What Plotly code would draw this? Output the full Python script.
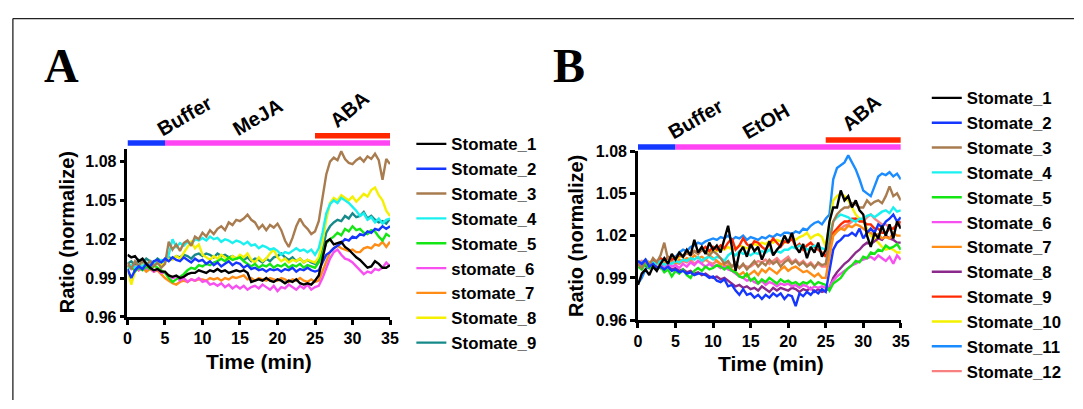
import plotly.graph_objects as go

TIME = [0, 0.5, 1, 1.5, 2, 2.5, 3, 3.5, 4, 4.5,
        5, 5.5, 6, 6.5, 7, 7.5, 8, 8.5, 9, 9.5,
        10, 10.5, 11, 11.5, 12, 12.5, 13, 13.5, 14, 14.5,
        15, 15.5, 16, 16.5, 17, 17.5, 18, 18.5, 19, 19.5,
        20, 20.5, 21, 21.5, 22, 22.5, 23, 23.5, 24, 24.5,
        25, 25.5, 26, 26.5, 27, 27.5, 28, 28.5, 29, 29.5,
        30, 30.5, 31, 31.5, 32, 32.5, 33, 33.5, 34, 34.5,
        35]

# ---------------- Panel A ----------------
A_NAMES = ["Stomate_1", "Stomate_2", "Stomate_3", "Stomate_4", "Stomate_5",
           "stomate_6", "stomate_7", "Stomate_8", "Stomate_9"]
A_COLORS = ["#000000", "#1436ff", "#a97c50", "#19f0f0", "#14e614",
            "#f84ff0", "#ff8c14", "#f5f000", "#168a8a"]

A_S1 = [1.008, 1.006, 1.007, 1.003, 1.005, 1.001, 0.998, 0.996, 0.997, 0.995,
        0.995, 0.992, 0.991, 0.992, 0.990, 0.991, 0.993, 0.994, 0.994, 0.996,
        0.995, 0.994, 0.996, 0.995, 0.997, 0.995, 0.996, 0.994, 0.995, 0.996,
        0.995, 0.996, 0.994, 0.987, 0.988, 0.989, 0.988, 0.990, 0.988, 0.987,
        0.989, 0.988, 0.986, 0.988, 0.987, 0.989, 0.986, 0.985, 0.986, 0.985,
        0.988, 0.992, 1.005, 1.018, 1.020, 1.016, 1.017, 1.018, 1.014, 1.012,
        1.009, 1.006, 1.004, 1.001, 0.998, 0.999, 1.003, 1.001, 0.998, 0.998,
        1.000]
A_S2 = [0.997, 0.990, 0.996, 0.999, 0.997, 1.001, 0.999, 1.003, 1.004, 1.002,
        1.005, 1.003, 1.006, 1.004, 1.003, 1.006, 1.004, 1.002, 1.005, 1.003,
        1.004, 1.001, 1.003, 1.000, 1.002, 0.999, 1.001, 1.003, 1.000, 1.002,
        1.001, 0.998, 1.000, 0.997, 0.998, 0.996, 0.997, 0.995, 0.997, 0.996,
        0.997, 0.995, 0.997, 0.996, 0.998, 0.995, 0.997, 0.996, 0.998, 0.996,
        0.995, 0.996, 1.002, 1.008, 1.010, 1.013, 1.015, 1.017, 1.020, 1.019,
        1.022, 1.021, 1.024, 1.023, 1.026, 1.025, 1.028, 1.027, 1.030, 1.028,
        1.030]
A_S3 = [1.002, 0.997, 1.003, 0.999, 1.004, 1.000, 1.003, 0.999, 1.002, 0.998,
        1.001, 1.018, 1.012, 1.016, 1.011, 1.017, 1.019, 1.015, 1.022, 1.020,
        1.025, 1.022, 1.027, 1.024, 1.028, 1.030, 1.027, 1.033, 1.031, 1.035,
        1.034, 1.036, 1.039, 1.035, 1.033, 1.028, 1.031, 1.027, 1.031, 1.029,
        1.032, 1.027, 1.019, 1.014, 1.021, 1.030, 1.036, 1.031, 1.028, 1.024,
        1.026, 1.034, 1.052, 1.070, 1.080, 1.083, 1.081, 1.088, 1.082, 1.079,
        1.078, 1.081, 1.083, 1.080, 1.084, 1.082, 1.086, 1.081, 1.066, 1.082,
        1.078]
A_S4 = [0.996, 1.000, 0.998, 1.001, 0.999, 1.002, 1.000, 1.003, 1.001, 1.004,
        1.002, 1.008, 1.020, 1.014, 1.017, 1.015, 1.018, 1.016, 1.020, 1.019,
        1.021, 1.019, 1.022, 1.020, 1.021, 1.018, 1.020, 1.019, 1.017, 1.019,
        1.018, 1.016, 1.018, 1.015, 1.016, 1.013, 1.015, 1.014, 1.012, 1.013,
        1.011, 1.008, 1.010, 1.009, 1.011, 1.013, 1.011, 1.012, 1.010, 1.012,
        1.008, 1.013, 1.025, 1.040, 1.047, 1.050, 1.048, 1.052, 1.050, 1.048,
        1.045, 1.042, 1.038, 1.040, 1.035, 1.037, 1.033, 1.036, 1.032, 1.035,
        1.036]
A_S5 = [0.998, 1.000, 0.995, 0.998, 0.996, 0.999, 0.997, 1.000, 0.998, 0.996,
        0.994, 0.990, 0.987, 0.989, 0.991, 0.993, 0.996, 0.998, 0.997, 1.000,
        0.999, 1.001, 1.000, 1.002, 1.003, 1.005, 1.003, 1.006, 1.004, 1.005,
        1.006, 1.003, 1.001, 0.999, 1.001, 0.998, 1.000, 0.999, 1.001, 0.998,
        1.000, 0.999, 1.001, 0.998, 1.000, 0.999, 1.001, 0.998, 1.000, 0.999,
        0.998, 1.002, 1.010, 1.017, 1.020, 1.022, 1.025, 1.023, 1.028, 1.026,
        1.030, 1.027, 1.028, 1.025, 1.024, 1.027, 1.026, 1.022, 1.019, 1.024,
        1.022]
A_S6 = [1.000, 0.997, 0.999, 0.996, 0.999, 0.997, 0.998, 0.995, 0.997, 0.994,
        0.994, 0.992, 0.990, 0.991, 0.988, 0.990, 0.987, 0.989, 0.988, 0.990,
        0.987, 0.988, 0.985, 0.986, 0.984, 0.986, 0.983, 0.985, 0.982, 0.984,
        0.982, 0.984, 0.981, 0.983, 0.984, 0.982, 0.985, 0.983, 0.981, 0.984,
        0.980, 0.983, 0.982, 0.985, 0.983, 0.981, 0.984, 0.982, 0.985, 0.981,
        0.983, 0.984, 0.990, 0.998, 1.005, 1.010, 1.012, 1.008, 1.005, 1.004,
        1.002, 0.999, 0.996, 0.993, 0.995, 0.994, 0.997, 0.996, 0.998, 1.002,
        0.999]
A_S7 = [1.000, 0.997, 0.999, 0.996, 0.998, 0.995, 0.997, 0.995, 0.996, 0.993,
        0.990, 0.988, 0.986, 0.985, 0.987, 0.988, 0.987, 0.989, 0.988, 0.989,
        0.989, 0.988, 0.990, 0.989, 0.990, 0.988, 0.990, 0.989, 0.991, 0.990,
        0.991, 0.992, 0.989, 0.990, 0.988, 0.990, 0.989, 0.988, 0.990, 0.989,
        0.988, 0.990, 0.989, 0.987, 0.989, 0.988, 0.990, 0.988, 0.987, 0.989,
        0.987, 0.988, 0.995, 1.003, 1.010, 1.013, 1.015, 1.013, 1.012, 1.011,
        1.012, 1.010, 1.010, 1.013, 1.014, 1.013, 1.016, 1.015, 1.018, 1.014,
        1.018]
A_S8 = [0.997, 0.985, 0.995, 0.998, 1.000, 0.997, 1.001, 0.999, 1.002, 1.000,
        1.003, 1.005, 1.004, 1.007, 1.005, 1.010, 1.014, 1.018, 1.013, 1.016,
        1.008, 1.006, 1.004, 1.007, 1.005, 1.008, 1.006, 1.004, 1.007, 1.005,
        1.008, 1.006, 1.009, 1.004, 1.002, 1.006, 1.003, 1.005, 1.009, 1.012,
        1.006, 1.003, 1.005, 1.002, 1.004, 1.003, 1.005, 1.002, 1.004, 1.003,
        1.002, 1.006, 1.018, 1.035, 1.048, 1.052, 1.050, 1.054, 1.052, 1.050,
        1.053, 1.049, 1.052, 1.055, 1.053, 1.058, 1.060, 1.054, 1.050, 1.042,
        1.038]
A_S9 = [1.001, 1.003, 1.000, 1.004, 1.002, 1.005, 1.003, 1.002, 1.005, 1.003,
        1.004, 1.006, 1.005, 1.007, 1.006, 1.008, 1.007, 1.005, 1.008, 1.009,
        1.007, 1.009, 1.008, 1.006, 1.009, 1.007, 1.008, 1.006, 1.007, 1.005,
        1.006, 1.004, 1.006, 1.003, 1.005, 1.004, 1.002, 1.005, 1.003, 1.006,
        1.007, 1.009, 1.006, 1.004, 1.006, 1.003, 1.005, 1.002, 1.004, 1.002,
        1.001, 1.004, 1.012, 1.025, 1.030, 1.033, 1.035, 1.034, 1.038, 1.036,
        1.040, 1.037, 1.038, 1.041, 1.036, 1.038, 1.035, 1.033, 1.034, 1.032,
        1.036]
A_SERIES = [A_S1, A_S2, A_S3, A_S4, A_S5, A_S6, A_S7, A_S8, A_S9]

# ---------------- Panel B ----------------
B_NAMES = ["Stomate_1", "Stomate_2", "Stomate_3", "Stomate_4", "Stomate_5",
           "Stomate_6", "Stomate_7", "Stomate_8", "Stomate_9", "Stomate_10",
           "Stomate_11", "Stomate_12"]
B_COLORS = ["#000000", "#1436ff", "#a97c50", "#19f0f0", "#14e614",
            "#f84ff0", "#ff8c14", "#8c2a8c", "#ff2a00", "#f5f000",
            "#1a8cff", "#f88080"]

B_S1 = [0.985, 0.993, 0.996, 0.992, 0.998, 0.995, 1.000, 1.004, 1.000, 1.007,
        1.003, 1.008, 1.005, 1.010, 1.006, 1.017, 1.008, 1.012, 1.007, 1.015,
        1.010, 1.013, 1.008, 1.017, 1.027, 1.012, 0.995, 1.008, 1.012, 1.005,
        1.014, 1.009, 1.012, 1.003, 1.009, 1.016, 1.006, 1.010, 1.013, 1.020,
        1.015, 1.022, 1.012, 1.008, 1.014, 1.004, 1.012, 1.008, 1.015, 1.005,
        1.010, 1.030, 1.040, 1.040, 1.052, 1.045, 1.048, 1.040, 1.045, 1.038,
        1.035, 1.020, 1.012, 1.022, 1.018, 1.027, 1.020, 1.028, 1.018, 1.030,
        1.025]
B_S2 = [1.002, 1.000, 1.003, 0.998, 1.000, 0.997, 0.998, 0.996, 0.998, 0.995,
        0.996, 0.994, 0.995, 0.993, 0.994, 0.992, 0.993, 0.993, 0.992, 0.990,
        0.991, 0.988, 0.987, 0.989, 0.984, 0.985, 0.981, 0.978, 0.982, 0.978,
        0.979, 0.976, 0.978, 0.975, 0.978, 0.976, 0.979, 0.977, 0.979, 0.975,
        0.978, 0.977, 0.970, 0.979, 0.977, 0.980, 0.978, 0.981, 0.979, 0.982,
        0.980, 0.995, 1.010, 1.015, 1.017, 1.020, 1.020, 1.022, 1.020, 1.025,
        1.018, 1.022, 1.025, 1.022, 1.028, 1.026, 1.030, 1.032, 1.035, 1.030,
        1.033]
B_S3 = [1.000, 0.997, 1.002, 0.999, 1.004, 1.001, 1.006, 1.015, 1.003, 1.006,
        1.004, 1.007, 1.005, 1.008, 1.006, 1.009, 1.007, 1.010, 1.008, 1.006,
        1.009, 1.007, 1.004, 1.000, 1.002, 0.998, 1.001, 0.997, 1.000, 0.996,
        0.999, 1.002, 0.998, 1.001, 0.999, 1.003, 1.000, 1.002, 0.998, 1.001,
        1.003, 1.000, 1.002, 0.999, 1.001, 0.998, 1.000, 0.997, 1.001, 0.999,
        1.000, 1.015, 1.030, 1.035, 1.038, 1.040, 1.040, 1.043, 1.042, 1.040,
        1.040, 1.045, 1.042, 1.044, 1.045, 1.043, 1.048, 1.055, 1.048, 1.050,
        1.045]
B_S4 = [1.002, 1.000, 1.003, 0.999, 1.001, 1.000, 1.002, 0.999, 1.001, 1.000,
        1.002, 1.001, 1.003, 1.002, 1.004, 1.003, 1.005, 1.002, 1.004, 1.005,
        1.003, 1.005, 1.004, 1.002, 1.006, 1.008, 1.006, 1.009, 1.007, 1.008,
        1.006, 1.008, 1.007, 1.009, 1.008, 1.010, 1.007, 1.009, 1.008, 1.010,
        1.010, 1.012, 1.011, 1.013, 1.012, 1.010, 1.011, 1.013, 1.012, 1.011,
        1.010, 1.020, 1.030, 1.033, 1.035, 1.034, 1.033, 1.031, 1.030, 1.032,
        1.032, 1.034, 1.035, 1.033, 1.035, 1.037, 1.038, 1.036, 1.040, 1.037,
        1.038]
B_S5 = [0.998, 0.996, 1.000, 0.997, 0.999, 0.996, 0.998, 0.994, 0.996, 0.991,
        0.995, 0.993, 0.996, 0.992, 0.990, 0.995, 0.997, 0.995, 0.998, 0.996,
        0.997, 0.999, 0.998, 0.996, 0.998, 0.995, 0.994, 0.991, 0.990, 0.993,
        0.988, 0.990, 0.986, 0.989, 0.987, 0.990, 0.988, 0.986, 0.989, 0.987,
        0.988, 0.986, 0.987, 0.985, 0.987, 0.986, 0.988, 0.985, 0.987, 0.986,
        0.985, 0.981, 0.986, 0.988, 0.990, 0.994, 0.997, 0.999, 1.002, 1.001,
        1.005, 1.004, 1.008, 1.007, 1.010, 1.009, 1.013, 1.011, 1.012, 1.014,
        1.010]
B_S6 = [1.000, 0.998, 1.001, 0.997, 0.999, 0.996, 0.999, 0.997, 1.000, 0.998,
        0.999, 0.997, 1.000, 0.998, 1.001, 0.999, 1.002, 1.000, 0.998, 1.000,
        0.998, 0.999, 0.997, 0.998, 0.996, 0.995, 0.993, 0.991, 0.990, 0.988,
        0.989, 0.987, 0.986, 0.988, 0.985, 0.987, 0.986, 0.984, 0.986, 0.985,
        0.986, 0.984, 0.985, 0.983, 0.985, 0.984, 0.982, 0.984, 0.983, 0.984,
        0.983, 0.984, 0.988, 0.991, 0.993, 0.995, 0.997, 0.999, 1.000, 1.002,
        1.003, 1.004, 1.005, 1.003, 1.006, 1.004, 1.002, 1.005, 1.000, 1.006,
        1.003]
B_S7 = [1.002, 1.000, 1.003, 1.001, 0.999, 1.001, 1.000, 1.002, 0.999, 1.001,
        1.000, 1.003, 1.002, 1.004, 1.003, 1.006, 1.004, 1.005, 1.003, 1.006,
        1.004, 1.002, 1.000, 0.999, 0.998, 0.996, 0.994, 0.992, 0.994, 0.991,
        0.993, 0.995, 0.992, 0.996, 0.994, 0.997, 0.995, 0.993, 0.996, 0.998,
        0.995, 0.997, 0.998, 0.996, 0.994, 0.995, 0.993, 0.991, 0.993, 0.990,
        0.990, 1.005, 1.020, 1.023, 1.025, 1.024, 1.027, 1.026, 1.028, 1.027,
        1.025, 1.023, 1.022, 1.020, 1.021, 1.018, 1.019, 1.018, 1.022, 1.020,
        1.020]
B_S8 = [1.000, 0.998, 0.999, 0.997, 0.999, 0.998, 0.997, 0.999, 0.998, 0.996,
        0.997, 0.995, 0.996, 0.994, 0.995, 0.993, 0.994, 0.992, 0.993, 0.991,
        0.990, 0.991, 0.989, 0.990, 0.988, 0.986, 0.984, 0.985, 0.983, 0.984,
        0.982, 0.983, 0.981, 0.984, 0.982, 0.980, 0.983, 0.981, 0.983, 0.982,
        0.981, 0.983, 0.982, 0.980, 0.982, 0.981, 0.983, 0.980, 0.982, 0.980,
        0.981, 0.983, 0.990, 0.994, 0.997, 1.000, 1.002, 1.005, 1.008, 1.010,
        1.013, 1.015, 1.014, 1.016, 1.018, 1.017, 1.020, 1.018, 1.017, 1.015,
        1.015]
B_S9 = [1.000, 0.998, 1.002, 0.999, 1.003, 1.001, 1.004, 1.002, 1.005, 1.003,
        1.004, 1.006, 1.005, 1.008, 1.006, 1.009, 1.007, 1.010, 1.012, 1.009,
        1.012, 1.010, 1.013, 1.011, 1.015, 1.018, 1.010, 1.013, 1.018, 1.014,
        1.012, 1.016, 1.015, 1.012, 1.010, 1.014, 1.018, 1.015, 1.012, 1.016,
        1.015, 1.018, 1.012, 1.014, 1.010, 1.013, 1.015, 1.012, 1.010, 1.008,
        1.005, 1.015, 1.022, 1.025, 1.028, 1.030, 1.030, 1.032, 1.032, 1.030,
        1.030, 1.028, 1.028, 1.025, 1.025, 1.022, 1.022, 1.025, 1.025, 1.028,
        1.030]
B_S10 = [1.000, 0.998, 1.001, 0.999, 1.002, 1.000, 1.003, 1.001, 1.002, 1.004,
         1.003, 1.005, 1.006, 1.008, 1.007, 1.009, 1.008, 1.010, 1.009, 1.008,
         1.010, 1.009, 1.011, 1.010, 1.012, 1.010, 1.011, 1.013, 1.012, 1.011,
         1.012, 1.014, 1.013, 1.015, 1.014, 1.016, 1.015, 1.017, 1.016, 1.015,
         1.016, 1.018, 1.017, 1.019, 1.020, 1.022, 1.018, 1.020, 1.021, 1.019,
         1.012, 1.030, 1.045, 1.048, 1.050, 1.048, 1.045, 1.040, 1.035, 1.032,
         1.030, 1.025, 1.020, 1.018, 1.015, 1.012, 1.010, 1.011, 1.010, 1.008,
         1.008]
B_S11 = [0.986, 0.990, 0.996, 0.999, 0.998, 1.001, 1.000, 1.003, 1.004, 1.005,
         1.005, 1.008, 1.010, 1.009, 1.012, 1.013, 1.015, 1.014, 1.016, 1.017,
         1.018, 1.017, 1.019, 1.018, 1.020, 1.017, 1.019, 1.018, 1.020, 1.017,
         1.019, 1.018, 1.017, 1.019, 1.018, 1.020, 1.019, 1.021, 1.020, 1.022,
         1.022, 1.021, 1.023, 1.022, 1.025, 1.024, 1.027, 1.029, 1.030, 1.028,
         1.032, 1.035, 1.060, 1.068, 1.070, 1.072, 1.077, 1.072, 1.067, 1.060,
         1.052, 1.050, 1.048, 1.055, 1.062, 1.064, 1.063, 1.065, 1.062, 1.064,
         1.060]
B_S12 = [1.000, 1.002, 0.999, 1.001, 1.000, 1.002, 0.999, 1.001, 1.000, 1.002,
         1.001, 1.000, 1.002, 1.001, 1.003, 1.000, 1.002, 1.001, 1.003, 1.001,
         1.000, 1.002, 0.999, 1.001, 1.000, 0.998, 0.999, 0.997, 0.999, 0.998,
         0.998, 1.000, 1.002, 1.001, 1.003, 1.000, 1.002, 1.004, 1.001, 1.003,
         1.005, 1.001, 1.003, 1.000, 1.002, 0.999, 1.001, 0.998, 1.000, 0.998,
         0.998, 1.010, 1.020, 1.023, 1.025, 1.027, 1.028, 1.030, 1.032, 1.031,
         1.030, 1.033, 1.035, 1.032, 1.030, 1.028, 1.028, 1.026, 1.025, 1.027,
         1.028]
B_SERIES = [B_S1, B_S2, B_S3, B_S4, B_S5, B_S6, B_S7, B_S8, B_S9, B_S10,
            B_S11, B_S12]

# treatment periods (min)
A_PERIODS = [("Buffer", 0, 5, "#1438ff"), ("MeJA", 5, 35, "#ff44f4")]
B_PERIODS = [("Buffer", 0, 5, "#1438ff"), ("EtOH", 5, 35, "#ff44f4")]
ABA_PERIOD = (25, 35, "#ff2800")

X_TICKS = [0, 5, 10, 15, 20, 25, 30, 35]
Y_TICKS = [0.96, 0.99, 1.02, 1.05, 1.08]
A_YRANGE = [0.96, 1.09]
B_YRANGE = [0.96, 1.08]

FONT = "Liberation Sans, Arial, Helvetica, sans-serif"
W, H = 1083, 409

fig = go.Figure()

for i in reversed(range(len(A_SERIES))):
    fig.add_trace(go.Scatter(
        x=TIME, y=A_SERIES[i], mode="lines", name=A_NAMES[i],
        line=dict(color=A_COLORS[i], width=2.4),
        xaxis="x", yaxis="y", legend="legend", legendrank=i + 1))
for i in reversed(range(len(B_SERIES))):
    fig.add_trace(go.Scatter(
        x=TIME, y=B_SERIES[i], mode="lines", name=B_NAMES[i],
        line=dict(color=B_COLORS[i], width=2.4),
        xaxis="x2", yaxis="y2", legend="legend2", legendrank=i + 1))


def px_x(p):
    return p / W


def px_y(p):
    return 1 - p / H


axis_common = dict(
    showline=True, linecolor="black", linewidth=2.6, ticks="outside",
    ticklen=5, tickwidth=2.6, tickcolor="black", showgrid=False,
    zeroline=False, tickfont=dict(family=FONT, size=16, color="black",
                                  weight="bold"))

fig.update_layout(
    width=W, height=H, margin=dict(l=0, r=0, t=0, b=0),
    paper_bgcolor="white", plot_bgcolor="white",
    xaxis=dict(domain=[px_x(125), px_x(390.7)], range=[0, 35],
               tickvals=X_TICKS, anchor="y", **axis_common),
    yaxis=dict(domain=[px_y(322.3), px_y(146.7)], range=A_YRANGE,
               tickvals=Y_TICKS, tickformat=".2f", anchor="x", **axis_common),
    xaxis2=dict(domain=[px_x(641.7), px_x(907.7)], range=[0, 35],
                tickvals=X_TICKS, anchor="y2", **axis_common),
    yaxis2=dict(domain=[px_y(325.7), px_y(149.3)], range=B_YRANGE,
                tickvals=Y_TICKS, tickformat=".2f", anchor="x2", **axis_common),
    legend=dict(x=px_x(412.3), y=px_y(123.6), xanchor="left", yanchor="top",
                bgcolor="rgba(0,0,0,0)", borderwidth=0,
                font=dict(family=FONT, size=16.8, color="black", weight="bold")),
    legend2=dict(x=px_x(934), y=px_y(75.6), xanchor="left", yanchor="top",
                 bgcolor="rgba(0,0,0,0)", borderwidth=0,
                 font=dict(family=FONT, size=16.8, color="black", weight="bold")),
    showlegend=True,
)

shapes = []
# treatment bars
for xa, ya, periods, ylow, yhigh in [("x", "y domain", A_PERIODS, 1.034, 1.076),
                                     ("x2", "y2 domain", B_PERIODS, 1.024, 1.066)]:
    for _, t0, t1, col in periods:
        shapes.append(dict(type="line", xref=xa, yref=ya, x0=t0, x1=t1,
                           y0=ylow, y1=ylow, line=dict(color=col, width=5.5)))
    shapes.append(dict(type="line", xref=xa, yref=ya, x0=ABA_PERIOD[0],
                       x1=ABA_PERIOD[1], y0=yhigh, y1=yhigh,
                       line=dict(color=ABA_PERIOD[2], width=5.5)))
# frame lines
shapes.append(dict(type="line", xref="paper", yref="paper", x0=px_x(9), x1=1,
                   y0=px_y(11), y1=px_y(11), line=dict(color="#222", width=1.3)))
shapes.append(dict(type="line", xref="paper", yref="paper", x0=px_x(9), x1=px_x(9),
                   y0=px_y(11), y1=0, line=dict(color="#222", width=1.3)))
fig.update_layout(shapes=shapes)

ann = []
bold = dict(family=FONT, color="black", weight="bold")
# panel letters
for txt, cx in [("A", 58.2), ("B", 572)]:
    ann.append(dict(text=txt, x=px_x(cx), y=px_y(59.7), xref="paper", yref="paper",
                    showarrow=False, xanchor="center", yanchor="middle",
                    font=dict(family="Liberation Serif, Times New Roman, serif",
                              size=48, color="black", weight="bold")))
# treatment labels
for txt, cx, cy, ang in [("Buffer", 182.5, 112.5, -30), ("MeJA", 256.7, 114, -30),
                         ("ABA", 350, 105.8, -40), ("Buffer", 700, 115.8, -30),
                         ("EtOH", 771.7, 118.3, -30), ("ABA", 867.5, 110, -40)]:
    ann.append(dict(text=txt, x=px_x(cx), y=px_y(cy), xref="paper", yref="paper",
                    showarrow=False, xanchor="center", yanchor="middle",
                    textangle=ang, font=dict(size=20, **bold)))
# axis titles
for cx, cy in [(258, 369), (776, 371)]:
    ann.append(dict(text="Time (min)", x=px_x(cx), y=px_y(cy), xref="paper",
                    yref="paper", showarrow=False, xanchor="center",
                    yanchor="middle", font=dict(size=21, **bold)))
for cx, cy in [(63.3, 234.5), (578.3, 237.5)]:
    ann.append(dict(text="Ratio (normalize)", x=px_x(cx), y=px_y(cy), xref="paper",
                    yref="paper", showarrow=False, xanchor="center",
                    yanchor="middle", textangle=-90, font=dict(size=20, **bold)))
fig.update_layout(annotations=ann)

fig.write_html("out.html",
               config={"displayModeBar": False},
               post_script="document.body.style.margin='0';"
                           "document.body.style.overflow='hidden';")
